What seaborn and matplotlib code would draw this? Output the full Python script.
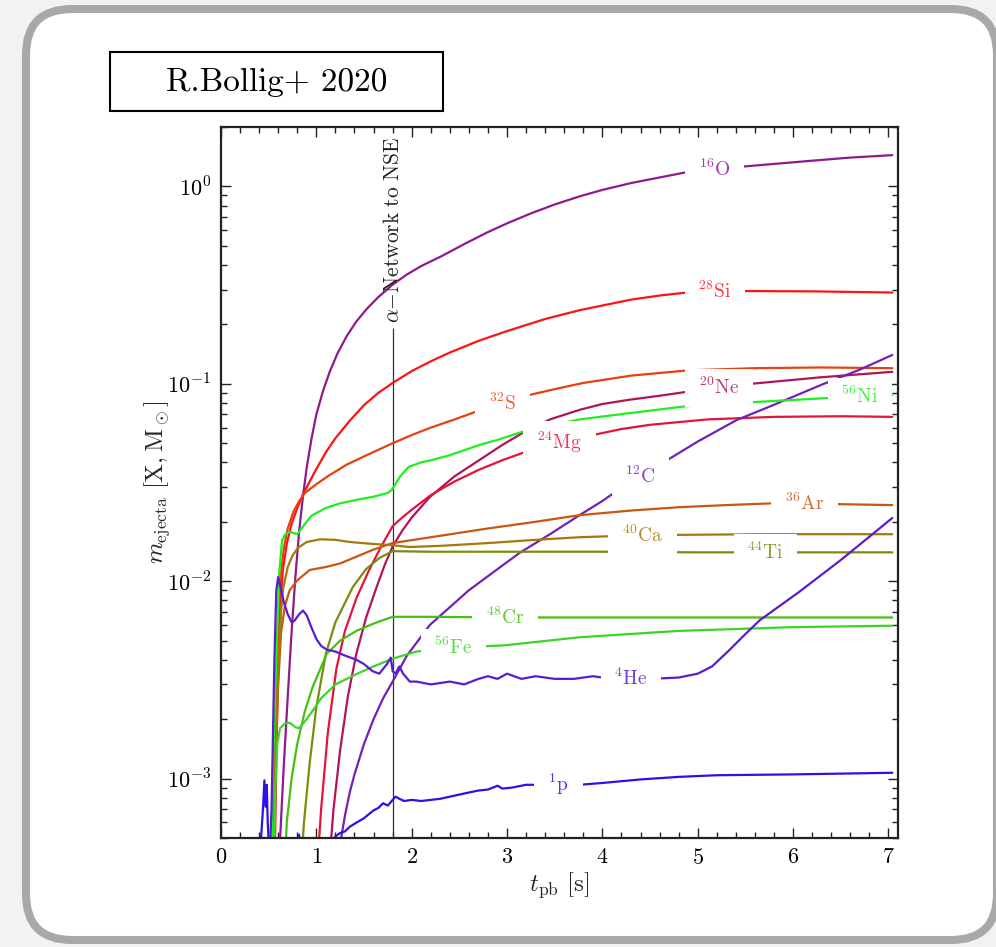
import numpy as np
import pandas as pd
import matplotlib
matplotlib.use("Agg")
import matplotlib.pyplot as plt
import seaborn as sns
from matplotlib.patches import FancyBboxPatch, Rectangle
from matplotlib.ticker import FixedLocator, FixedFormatter, LogLocator, NullFormatter, MultipleLocator
from matplotlib.colors import to_rgb

# ---------------- ejected mass per species vs post-bounce time ----------------
t_O16 = [0.60, 0.62, 0.66, 0.70, 0.74, 0.78, 0.82, 0.86, 0.90, 0.95, 1.00, 1.07, 1.14, 1.22, 1.32,
         1.42, 1.53, 1.65, 1.80, 1.95, 2.10, 2.30, 2.55, 2.79, 3.00, 3.25, 3.50, 3.76, 4.00, 4.30,
         4.60, 4.88, 5.20, 5.47, 5.80, 6.20, 6.60, 7.04]
m_O16 = [3e-4, 5e-4, 1.2e-3, 2.6e-3, 5.5e-3, 0.0105, 0.018, 0.027, 0.038, 0.053, 0.070, 0.092, 0.115, 0.142, 0.175,
         0.207, 0.240, 0.275, 0.318, 0.358, 0.395, 0.44, 0.51, 0.584, 0.65, 0.73, 0.81, 0.89, 0.96, 1.04,
         1.11, 1.18, 1.22, 1.26, 1.30, 1.35, 1.40, 1.44]

t_Si28 = [0.56, 0.58, 0.60, 0.62, 0.65, 0.69, 0.74, 0.80, 0.86, 0.93, 1.00, 1.10, 1.20, 1.35, 1.50,
          1.65, 1.80, 2.00, 2.20, 2.40, 2.70, 3.00, 3.40, 3.76, 4.30, 4.60, 4.88, 5.50, 6.20, 7.04]
m_Si28 = [3e-4, 1.2e-3, 4e-3, 7.5e-3, 0.0115, 0.0155, 0.0195, 0.0235, 0.0275, 0.032, 0.037, 0.045, 0.053, 0.065, 0.078,
          0.090, 0.101, 0.116, 0.130, 0.144, 0.165, 0.185, 0.213, 0.236, 0.267, 0.280, 0.290, 0.295, 0.294, 0.290]

t_S32 = [0.55, 0.57, 0.59, 0.62, 0.66, 0.70, 0.76, 0.82, 0.88, 1.00, 1.12, 1.32, 1.55, 1.80, 2.00,
         2.20, 2.45, 2.70, 2.95, 3.20, 3.50, 3.80, 4.30, 4.90, 5.60, 6.30, 7.04]
m_S32 = [3e-4, 1.5e-3, 5e-3, 0.010, 0.0148, 0.0185, 0.0225, 0.0255, 0.028, 0.031, 0.034, 0.039, 0.044, 0.050, 0.055,
         0.060, 0.066, 0.073, 0.080, 0.087, 0.094, 0.101, 0.110, 0.117, 0.120, 0.121, 0.120]

t_Ne20 = [1.12, 1.18, 1.25, 1.33, 1.42, 1.52, 1.62, 1.72, 1.80, 1.90, 2.00, 2.19, 2.45, 2.71, 2.95,
          3.18, 3.45, 3.76, 4.00, 4.28, 4.60, 4.88, 5.56, 6.30, 7.04]
m_Ne20 = [3e-4, 7e-4, 1.4e-3, 2.6e-3, 4.3e-3, 6.5e-3, 9.0e-3, 0.0122, 0.0150, 0.018, 0.021, 0.0267, 0.034, 0.0411, 0.049,
          0.057, 0.066, 0.0738, 0.079, 0.083, 0.087, 0.091, 0.100, 0.108, 0.115]

t_Mg24 = [1.00, 1.05, 1.12, 1.21, 1.30, 1.42, 1.55, 1.68, 1.80, 1.90, 2.00, 2.20, 2.45, 2.70, 2.95,
          3.16, 3.50, 3.90, 4.20, 4.50, 5.10, 5.80, 6.50, 7.04]
m_Mg24 = [3e-4, 7e-4, 1.7e-3, 3.6e-3, 5.6e-3, 8.2e-3, 0.0113, 0.0150, 0.0190, 0.021, 0.023, 0.0273, 0.032, 0.0366, 0.041,
          0.0446, 0.050, 0.055, 0.059, 0.062, 0.066, 0.068, 0.0685, 0.068]

t_C12 = [1.22, 1.26, 1.30, 1.35, 1.40, 1.50, 1.60, 1.70, 1.80, 1.95, 2.19, 2.60, 3.13, 3.45, 3.76,
         4.00, 4.18, 4.40, 4.63, 5.00, 5.41, 5.72, 6.00, 6.30, 6.70, 7.04]
m_C12 = [3e-4, 5e-4, 6.5e-4, 8.5e-4, 1.05e-3, 1.5e-3, 2.0e-3, 2.55e-3, 3.1e-3, 4.2e-3, 6.0e-3, 9.0e-3, 0.0139, 0.0173, 0.0216,
         0.0255, 0.0293, 0.034, 0.0397, 0.051, 0.0656, 0.0755, 0.086, 0.099, 0.118, 0.140]

t_Ni56 = [0.52, 0.55, 0.58, 0.61, 0.64, 0.67, 0.72, 0.80, 0.88, 0.95, 1.10, 1.25, 1.45, 1.60, 1.75,
          1.79, 1.82, 1.88, 1.97, 2.10, 2.22, 2.40, 2.71, 2.90, 3.20, 3.76, 4.28, 4.88, 5.57, 6.38, 7.04]
m_Ni56 = [3e-4, 1e-3, 4e-3, 0.011, 0.016, 0.0172, 0.0178, 0.0173, 0.0195, 0.0215, 0.0235, 0.0248, 0.026, 0.0268, 0.028,
          0.029, 0.0305, 0.034, 0.038, 0.040, 0.0412, 0.0435, 0.049, 0.052, 0.058, 0.066, 0.071, 0.077, 0.0807, 0.0848, 0.0877]

t_Ar36 = [0.55, 0.57, 0.60, 0.63, 0.67, 0.72, 0.80, 0.93, 1.10, 1.25, 1.45, 1.59, 1.80, 2.20, 2.80,
          3.30, 3.76, 4.30, 4.80, 5.30, 5.78, 6.40, 7.04]
m_Ar36 = [3e-4, 1.2e-3, 3e-3, 5.5e-3, 7.5e-3, 9e-3, 0.0101, 0.0114, 0.0118, 0.0123, 0.0135, 0.0144, 0.0156, 0.0167, 0.0185,
          0.0200, 0.0216, 0.0228, 0.0237, 0.0243, 0.0248, 0.0246, 0.0243]

t_Ca40 = [0.55, 0.57, 0.60, 0.63, 0.65, 0.70, 0.75, 0.81, 0.90, 1.04, 1.20, 1.35, 1.55, 1.80, 1.98,
          2.30, 2.80, 3.30, 3.76, 4.42, 5.00, 5.70, 6.40, 7.04]
m_Ca40 = [3e-4, 1.2e-3, 3.5e-3, 7e-3, 9.1e-3, 0.0118, 0.0135, 0.0148, 0.0158, 0.0163, 0.0162, 0.0158, 0.0155, 0.0152, 0.0149,
          0.0151, 0.0156, 0.0162, 0.0167, 0.0171, 0.0172, 0.0173, 0.0173, 0.0173]

t_Ti44 = [0.83, 0.87, 0.93, 1.00, 1.10, 1.20, 1.38, 1.52, 1.66, 1.80, 2.20, 3.00, 4.00, 5.00, 6.00, 7.04]
m_Ti44 = [3e-4, 6e-4, 1.2e-3, 2.3e-3, 4.3e-3, 6.2e-3, 9.3e-3, 0.0115, 0.0131, 0.0142, 0.0141, 0.0141, 0.0141, 0.0140, 0.0140, 0.0140]

t_Cr48 = [0.66, 0.69, 0.74, 0.80, 0.88, 0.96, 1.11, 1.25, 1.42, 1.60, 1.80, 2.20, 3.00, 4.00, 5.00, 6.00, 7.04]
m_Cr48 = [3e-4, 6e-4, 1.0e-3, 1.5e-3, 2.2e-3, 2.9e-3, 4.3e-3, 5.0e-3, 5.6e-3, 6.1e-3, 6.6e-3, 6.6e-3, 6.55e-3, 6.55e-3,
          6.55e-3, 6.55e-3, 6.55e-3]

t_Fe56 = [0.55, 0.57, 0.59, 0.62, 0.67, 0.72, 0.78, 0.82, 0.88, 0.96, 1.05, 1.20, 1.43, 1.60, 1.80,
          2.05, 2.40, 2.97, 3.76, 4.80, 6.00, 7.04]
m_Fe56 = [3e-4, 9e-4, 1.5e-3, 1.8e-3, 1.9e-3, 1.92e-3, 1.82e-3, 1.8e-3, 1.95e-3, 2.2e-3, 2.55e-3, 3.0e-3, 3.4e-3, 3.7e-3, 4.05e-3,
          4.4e-3, 4.6e-3, 4.73e-3, 5.2e-3, 5.6e-3, 5.85e-3, 5.95e-3]

t_He4 = [0.50, 0.53, 0.56, 0.58, 0.60, 0.62, 0.66, 0.70, 0.74, 0.77, 0.82, 0.86, 0.90, 0.95, 1.00,
         1.05, 1.11, 1.20, 1.30, 1.42, 1.50, 1.59, 1.66, 1.74, 1.78, 1.80, 1.83, 1.87, 1.91, 1.98,
         2.05, 2.20, 2.40, 2.55, 2.70, 2.80, 2.90, 3.00, 3.15, 3.30, 3.50, 3.70, 3.90, 4.10, 4.50,
         4.80, 5.00, 5.15, 5.33, 5.50, 5.65, 6.06, 6.50, 7.04]
m_He4 = [3e-4, 7e-4, 4e-3, 9e-3, 0.0105, 0.0095, 0.0078, 0.0068, 0.0062, 0.0063, 0.0068, 0.0071, 0.0067, 0.0058, 0.0051,
         0.0047, 0.0045, 0.0044, 0.0042, 0.0040, 0.0038, 0.0035, 0.0034, 0.0038, 0.0041, 0.0035, 0.0034, 0.0037, 0.0034, 0.0031,
         0.0031, 0.0030, 0.0031, 0.0030, 0.0032, 0.0033, 0.0032, 0.0034, 0.0032, 0.0033, 0.0032, 0.0032, 0.0033, 0.0032, 0.0032,
         0.00325, 0.0034, 0.0037, 0.00447, 0.0054, 0.00634, 0.0088, 0.0128, 0.0209]

t_p1 = [0.40, 0.42, 0.44, 0.455, 0.47, 0.48, 0.49, 0.50, 0.52, 0.55, 0.80, 0.82, 0.84, 0.86, 1.15,
        1.20, 1.25, 1.30, 1.35, 1.40, 1.45, 1.50, 1.55, 1.60, 1.65, 1.70, 1.75, 1.80, 1.83, 1.87,
        1.92, 2.00, 2.10, 2.30, 2.50, 2.60, 2.70, 2.80, 2.90, 2.95, 3.05, 3.20, 3.35, 3.55, 3.76,
        4.00, 4.40, 4.80, 5.20, 6.00, 7.04]
m_p1 = [3e-4, 5e-4, 7e-4, 9.8e-4, 7.2e-4, 9.3e-4, 6e-4, 4.8e-4, 3e-4, 3e-4, 3e-4, 5.2e-4, 3e-4, 3e-4, 3e-4,
        5.1e-4, 5.3e-4, 5.4e-4, 5.7e-4, 5.9e-4, 6.1e-4, 6.3e-4, 6.6e-4, 6.9e-4, 7.1e-4, 7.5e-4, 7.3e-4, 7.8e-4, 8.1e-4, 7.9e-4,
        7.7e-4, 7.8e-4, 7.7e-4, 7.9e-4, 8.3e-4, 8.5e-4, 8.7e-4, 8.8e-4, 9.2e-4, 8.9e-4, 9.0e-4, 9.3e-4, 9.3e-4, 9.3e-4, 9.3e-4,
        9.5e-4, 9.9e-4, 1.02e-3, 1.04e-3, 1.05e-3, 1.07e-3]

species = ["O16", "Si28", "S32", "Ne20", "Mg24", "C12", "Ni56", "Ar36", "Ca40", "Ti44", "Cr48", "Fe56", "He4", "p1"]
series = {
    "O16": (t_O16, m_O16), "Si28": (t_Si28, m_Si28), "S32": (t_S32, m_S32), "Ne20": (t_Ne20, m_Ne20),
    "Mg24": (t_Mg24, m_Mg24), "C12": (t_C12, m_C12), "Ni56": (t_Ni56, m_Ni56), "Ar36": (t_Ar36, m_Ar36),
    "Ca40": (t_Ca40, m_Ca40), "Ti44": (t_Ti44, m_Ti44), "Cr48": (t_Cr48, m_Cr48), "Fe56": (t_Fe56, m_Fe56),
    "He4": (t_He4, m_He4), "p1": (t_p1, m_p1),
}
label_text = {
    "O16": r"$^{16}\mathrm{O}$", "Si28": r"$^{28}\mathrm{Si}$", "S32": r"$^{32}\mathrm{S}$",
    "Ne20": r"$^{20}\mathrm{Ne}$", "Mg24": r"$^{24}\mathrm{Mg}$", "C12": r"$^{12}\mathrm{C}$",
    "Ni56": r"$^{56}\mathrm{Ni}$", "Ar36": r"$^{36}\mathrm{Ar}$", "Ca40": r"$^{40}\mathrm{Ca}$",
    "Ti44": r"$^{44}\mathrm{Ti}$", "Cr48": r"$^{48}\mathrm{Cr}$", "Fe56": r"$^{56}\mathrm{Fe}$",
    "He4": r"$^{4}\mathrm{He}$", "p1": r"$^{1}\mathrm{p}$",
}
label_x = {"O16": 5.18, "Si28": 5.18, "S32": 2.95, "Ne20": 5.22, "Mg24": 3.55, "C12": 4.40, "Ni56": 6.70,
           "Ar36": 6.12, "Ca40": 4.42, "Ti44": 5.71, "Cr48": 2.98, "Fe56": 2.44, "He4": 4.30, "p1": 3.54}
colors = {
    "O16": "#8e1a8e", "Si28": "#ff1212", "S32": "#e8400e", "Ne20": "#b0145a", "Mg24": "#e3143c",
    "C12": "#7420b8", "Ni56": "#1ef01e", "Ar36": "#c8560e", "Ca40": "#a6780a", "Ti44": "#7a8c0c",
    "Cr48": "#46c010", "Fe56": "#3cd428", "He4": "#5a1ccc", "p1": "#2a12e8",
}

t_transition = 1.8
x_ticks = [0, 1, 2, 3, 4, 5, 6, 7]
y_ticks = [1e-3, 1e-2, 1e-1, 1e0]
y_ticklabels = [r"$10^{-3}$", r"$10^{-2}$", r"$10^{-1}$", r"$10^{0}$"]

df = pd.concat([pd.DataFrame({"t": series[s][0], "m": series[s][1], "species": s}) for s in species],
               ignore_index=True)

# ---------------- figure ----------------
sns.set_theme(style="ticks")
plt.rcParams["mathtext.fontset"] = "cm"
plt.rcParams["font.family"] = ["cmr10", "DejaVu Serif"]
plt.rcParams["axes.formatter.use_mathtext"] = True

W, H = 996, 947
fig = plt.figure(figsize=(W / 100, H / 100), dpi=100, facecolor="#f2f2f2")

# rounded card behind everything
bg = fig.add_axes([0, 0, 1, 1], zorder=0)
bg.set_xlim(0, W)
bg.set_ylim(H, 0)
bg.axis("off")
bg.add_patch(FancyBboxPatch((26, 9), 971, 931, boxstyle="round,pad=0,rounding_size=46",
                            fc="white", ec="#a8a8a8", lw=5.8))
bg.add_patch(Rectangle((110, 52), 333, 59, fc="white", ec="black", lw=1.5))
bg.text(276.5, 82, "R.Bollig+ 2020", ha="center", va="center", fontsize=24, family="cmr10", color="black")

ax = fig.add_axes([221 / W, 1 - 838 / H, (898 - 221) / W, (838 - 127) / H], zorder=1)
ax.set_facecolor("white")

sns.lineplot(data=df, x="t", y="m", hue="species", hue_order=species, palette=colors,
             estimator=None, sort=False, legend=False, lw=1.6, ax=ax, zorder=2)

ax.set_yscale("log")
ax.set_xlim(0, 7.10)
ax.set_ylim(5e-4, 2.0)

# transition marker
ax.vlines(t_transition, 5e-4, 0.192, color="#333333", lw=0.9, zorder=1.5)
ax.text(t_transition, 0.204, r"$\alpha\mathrm{-Network\ to\ NSE}$", rotation=90, ha="center", va="bottom",
        fontsize=15.5, color="#222222", zorder=6)

# inline species labels sitting on their curves
for s in species:
    t, m = series[s]
    xl = label_x[s]
    yl = 10 ** np.interp(xl, t, np.log10(m))
    c = np.array(to_rgb(colors[s]))
    c = 0.85 * c + 0.15
    ax.text(xl, yl, label_text[s], ha="center", va="center", fontsize=14, color=c, zorder=5,
            bbox=dict(boxstyle="square,pad=0.7", fc="white", ec="none", mutation_aspect=0.6))

ax.xaxis.set_major_locator(FixedLocator(x_ticks))
ax.xaxis.set_minor_locator(MultipleLocator(0.2))
ax.set_xticklabels([rf"$\mathrm{{{v}}}$" for v in x_ticks])
ax.yaxis.set_major_locator(FixedLocator(y_ticks))
ax.yaxis.set_major_formatter(FixedFormatter(y_ticklabels))
ax.yaxis.set_minor_locator(LogLocator(base=10, subs=np.arange(2, 10), numticks=20))
ax.yaxis.set_minor_formatter(NullFormatter())

ax.tick_params(which="both", direction="in", top=True, right=True, colors="#222222", width=1.0,
               labelsize=16, labelcolor="black")
ax.tick_params(which="major", length=7, pad=7)
ax.tick_params(which="minor", length=4)
for sp in ax.spines.values():
    sp.set_linewidth(1.6)
    sp.set_color("#222222")

ax.set_xlabel(r"$t_{\rm pb}\ [\rm s]$", fontsize=18)
ax.set_ylabel(r"$m_{\rm ejecta}\ [\rm X, M_\odot]$", fontsize=18)
ax.xaxis.set_label_coords(0.5, -0.046)
ax.yaxis.set_label_coords(-0.072, 0.5)

fig.savefig("out.png", dpi=100, facecolor=fig.get_facecolor())
